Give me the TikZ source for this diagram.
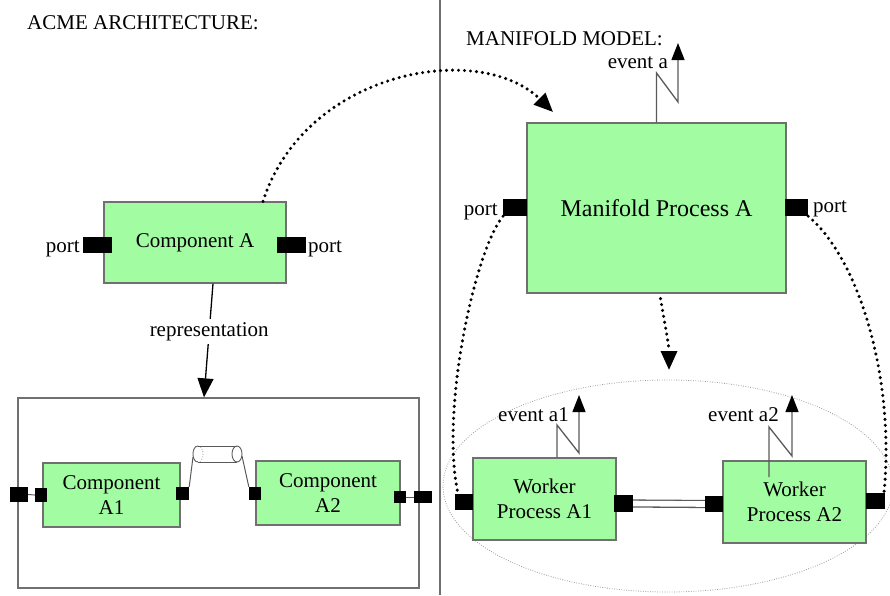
\documentclass[tikz,border=0pt]{standalone}
\usepackage{fontspec}
\setmainfont{Liberation Serif}
\usetikzlibrary{arrows.meta}
\definecolor{boxgreen}{HTML}{A2FCA2}
\definecolor{edgegray}{HTML}{707070}
\definecolor{wiregray}{HTML}{5A5A5A}
\begin{document}
\begin{tikzpicture}[x=1pt,y=-1pt,
  box/.style={draw=edgegray, line width=1.2pt, fill=boxgreen, inner sep=0pt, align=center, font=\fontsize{21}{25}\selectfont},
  portbox/.style={fill=black, inner sep=0pt},
  lbl/.style={font=\fontsize{21}{25}\selectfont, inner sep=0pt},
  wire/.style={draw=wiregray, line width=1.3pt},
  bigdots/.style={line width=3.4pt, dash pattern=on 0pt off 6pt, line cap=round},
  tip/.style={-{Triangle[length=19pt,width=16pt]}},
  evtip/.style={-{Triangle[length=17pt,width=13pt,color=black]}},
]
\useasboundingbox (0,0) rectangle (890,595);

% titles and divider
\node[lbl, anchor=base west] (t1) at (27,29) {ACME ARCHITECTURE:};
\node[lbl, anchor=base west] (t2) at (466,45) {MANIFOLD MODEL:};
\draw[edgegray, line width=1.3pt] (440,0) -- (440,595);

% ---------- left side ----------
\node[box, minimum width=182pt, minimum height=81pt] (compA) at (195,242.5) {Component A};
\node[portbox, minimum width=29pt, minimum height=16pt] (cAL) at (97.5,245) {};
\node[portbox, minimum width=29pt, minimum height=16pt] (cAR) at (291.5,245) {};
\node[lbl, anchor=base east] (pl1) at (80,252) {port};
\node[lbl, anchor=base west] (pr1) at (308,252) {port};

\node[draw=edgegray, line width=1.3pt, minimum width=401pt, minimum height=190pt, inner sep=0pt] (bigbox) at (218.5,493) {};

\draw[line width=1.3pt, tip] ([xshift=18pt]compA.south) -- node[pos=0.42, fill=white, lbl, inner sep=3pt] (rep) {representation} ([xshift=-14.5pt]bigbox.north);

\node[box, minimum width=137pt, minimum height=64pt] (A1) at (111.5,495) {Component\\A1};
\node[box, minimum width=144pt, minimum height=64pt] (A2) at (328,493) {Component\\A2};

\node[portbox, minimum width=18pt, minimum height=15pt] (oL) at (19,494.5) {};
\node[portbox, minimum width=12pt, minimum height=14pt] (iL) at (41,495) {};
\node[portbox, minimum width=13pt, minimum height=13pt] (a1R) at (182.5,493.5) {};
\node[portbox, minimum width=12pt, minimum height=13pt] (a2L) at (255,493.5) {};
\node[portbox, minimum width=12pt, minimum height=12pt] (a2R) at (400,497) {};
\node[portbox, minimum width=18pt, minimum height=12pt] (oR) at (423,497) {};
\draw[wire, line width=1pt] (oL.east) -- (iL.west);
\draw[wire, line width=1pt] (a2R.east) -- (oR.west);

% connector cylinder
\coordinate (cylL) at (193,457);
\coordinate (cylR) at (242,456);
\draw[wiregray, line width=0.9pt] (198,446) -- (237,446) (198,462) -- (237,462);
\draw[wiregray, line width=0.9pt] (237,454) ellipse [x radius=5, y radius=8];
\draw[wiregray, line width=0.9pt] (198,446) .. controls (191.3,446) and (191.3,462) .. (198,462);
\draw[wiregray, line width=0.6pt, dotted] (198,446) .. controls (204.7,446) and (204.7,462) .. (198,462);
\draw[wire, line width=1pt] (a1R.north east) -- (cylL);
\draw[wire, line width=1pt] (cylR) -- (a2L.north west);

% ---------- right side ----------
\draw[gray!80, line width=0.8pt, dash pattern=on 0.8pt off 1.6pt] (668,486) ellipse [x radius=225, y radius=106];

\node[box, minimum width=259pt, minimum height=170pt, font=\fontsize{24}{28}\selectfont] (mpa) at (656.5,208) {Manifold Process A};
\node[portbox, minimum width=24pt, minimum height=17pt] (mL) at (515,207.5) {};
\node[portbox, minimum width=23pt, minimum height=17pt] (mR) at (796.5,207.5) {};
\node[lbl, anchor=base east] (pl2) at (498,215) {port};
\node[lbl, anchor=base west] (pr2) at (813,212) {port};

\coordinate (ea) at (678,43);
\draw[wire, evtip] (mpa.north) -- (656.5,73) -- (678,102) -- (ea);
\node[lbl, anchor=base east] (eat) at (668,68) {event a};

\node[box, minimum width=143pt, minimum height=82pt] (w1) at (544.5,499) {Worker\\Process A1};
\node[box, minimum width=143pt, minimum height=82pt] (w2) at (794.5,502) {Worker\\Process A2};
\node[portbox, minimum width=18pt, minimum height=16pt] (w1L) at (464,502) {};
\node[portbox, minimum width=19pt, minimum height=17pt] (w1R) at (623.5,503.5) {};
\node[portbox, minimum width=18pt, minimum height=16pt] (w2L) at (714,504) {};
\node[portbox, minimum width=19pt, minimum height=16pt] (w2R) at (875.5,501) {};
\draw[draw=wiregray, line width=1.3pt, double=white, double distance=5.6pt] (w1R.east) -- (w2L.west);

\coordinate (ea1) at (579,395);
\draw[wire, evtip] ([xshift=12.5pt]w1.north) -- (557,425) -- (579,453) -- (ea1);
\node[lbl, anchor=base west] (ea1t) at (498,421) {event a1};
\coordinate (ea2s) at (769,477);
\coordinate (ea2) at (792,395);
\draw[wire, evtip] (ea2s) -- (769,427) -- (792,456) -- (ea2);
\node[lbl, anchor=base west] (ea2t) at (708,421) {event a2};

% dotted mappings
\coordinate (arcend) at (553,112);
\draw[bigdots, tip] ([xshift=68pt]compA.north) .. controls (305,70) and (480,40) .. (arcend);
\coordinate (mdown) at (669,370);
\draw[bigdots, tip] ([shift={(4,5)}]mpa.south) .. controls (665,325) and (669,345) .. (mdown);
\draw[bigdots] ([xshift=-12pt]mL.south) .. controls (475,250) and (440,410) .. ([xshift=-6pt]w1L.north);
\draw[bigdots] (mR.south east) .. controls (860,260) and (895,380) .. ([xshift=8.5pt]w2R.north);
\end{tikzpicture}
\end{document}
